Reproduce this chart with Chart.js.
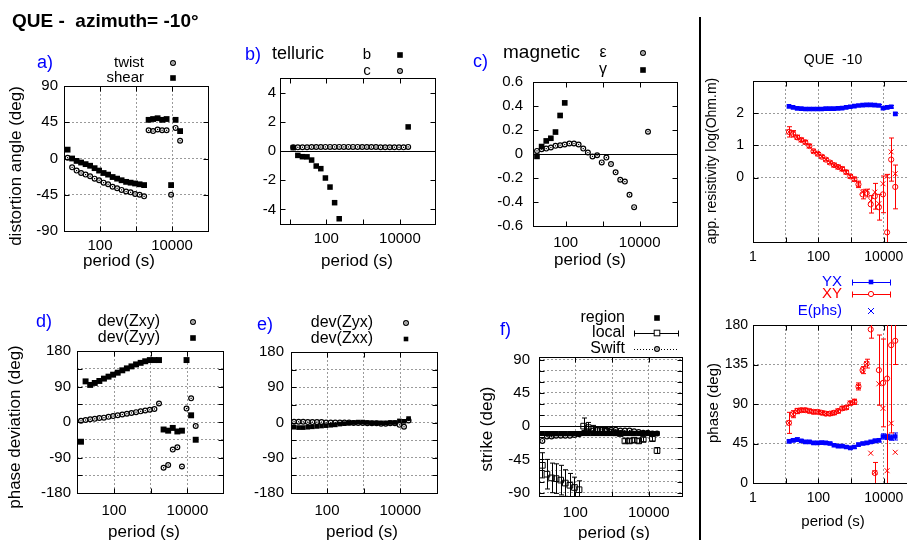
<!DOCTYPE html>
<html>
<head>
<meta charset="utf-8">
<script src="https://cdn.jsdelivr.net/npm/chart.js@4.4.1/dist/chart.umd.min.js"></script>
<style>
html, body { margin: 0; padding: 0; background: #fff; width: 907px; height: 540px; overflow: hidden; }
canvas { position: absolute; left: 0; top: 0; }
#divider { position: absolute; left: 699px; top: 17px; width: 2px; height: 523px; background: #000; }
</style>
</head>
<body>
<div id="divider"></div>
<canvas id="ca" width="940" height="540"></canvas>
<canvas id="cb" width="940" height="540"></canvas>
<canvas id="cc" width="940" height="540"></canvas>
<canvas id="cd" width="940" height="540"></canvas>
<canvas id="ce" width="940" height="540"></canvas>
<canvas id="cf" width="940" height="540"></canvas>
<canvas id="crho" width="940" height="540"></canvas>
<canvas id="cphi" width="940" height="540"></canvas>
<script>
// ==== DATA ====
// periods (s), shared by every panel
const periods = [12.59, 16.79, 22.39, 29.85, 39.81, 53.09, 70.79, 94.41, 125.9, 167.9, 223.9, 298.5, 398.1,
  530.9, 707.9, 944.1, 1259, 1679, 2239, 2985, 3981, 5309, 7079, 9441, 12589, 16788, 22387];

// a) distortion angles (deg)
const twist = [1, -11, -15, -18, -20, -22, -25, -27, -30, -32, -35, -37, -39, -41, -42, -44, -45, -47,
  35, 34, 36, 35, 35, -45, 38, 22, null];
const shear = [11, 0, -3, -5, -7, -9, -12, -15, -18, -20, -23, -25, -27, -29, -30, -31, -32, -33,
  48, 49, 50, 48, 49, -33, 48, 34, null];

// b) telluric
const tellB = [0.23, -0.3, -0.39, -0.4, -0.62, -1.03, -1.21, -1.85, -2.47, -3.54, -4.64, null, null, null,
  null, null, null, null, null, null, null, null, null, null, null, 1.65, null];
const tellC = [0.25, 0.25, 0.26, 0.26, 0.27, 0.27, 0.27, 0.28, 0.28, 0.28, 0.28, 0.28, 0.28, 0.28, 0.28,
  0.27, 0.27, 0.27, 0.27, 0.26, 0.26, 0.26, 0.26, 0.25, 0.25, 0.28, null];

// c) magnetic
const magEps = [null, 0.026, 0.04, 0.045, 0.054, 0.068, 0.073, 0.079, 0.087, 0.087, 0.079, 0.045, 0.012,
  -0.02, -0.01, -0.07, -0.03, -0.084, -0.153, -0.214, -0.23, -0.34, -0.443, null, null, 0.186, null];
const magGamma = [null, -0.02, 0.062, 0.109, 0.131, 0.183, 0.321, 0.426, null, null, null, null, null,
  null, null, null, null, null, null, null, null, null, null, null, null, null, null];

// d) phase deviation (deg)
const devZxy = [3, 5, 7, 8, 10, 11, 13, 15, 17, 19, 21, 23, 25, 27, 29, 31, 33, 47,
  -116, -109, -70, -64, -113, 34, 60, -10, null];
const devZyy = [-50, 103, 94, 99, 104, 110, 115, 120, 125, 131, 136, 141, 146, 150, 154, 157, 157, 157,
  -19, -22, -15, -24, -22, 157, 17, -45, null];

// e) phase deviation (deg)
const devZyx = [2, 2, 2, 1, 1, 1, 1, 0, 0, 0, 0, 0, 0, -1, -1, -1, -2, -2, -2, -3, -3, -2, -2, -6, -11, 5, null];
const devZxx = [-12, -13, -13, -12, -11, -10, -9, -8, -7, -6, -4, -3, -2, 0, 1, 1, 0, -1, -1, -1, -1, 0, 0, 4, 3, 10, null];

// f) strike (deg)
const strikeRegion = [-10, -10, -10, -10, -10, -10, -10, -10, -10, -10, -10, -10, -10, -10, -10, -10, -10,
  -10, -10, -10, -10, -10, -10, -10, -10, -10, null];
const strikeLocal = [-53, -65, -70, -71, -73, -77, -80, -83, -86, 0, -2, -4, -5, -6, -7, -8, -9, -10,
  -20, -20, -19, -20, -18, null, -17, -33, null];
const strikeLocalErr = [17, 20, 20, 20, 20, 18, 16, 14, 12, 11, 7, 5, 4, 4, 4, 3, 3, 3,
  3, 3, 3, 3, 3, null, 3, 4, null];
const strikeSwift = [-20, -14, -14, -13, -13, -13, -13, -12, -11, -9, -7, -6, -5, -5, -5, -5, -5, -6,
  -6, -6, -7, -8, -9, -9, -10, -10, null];

// right: apparent resistivity log10(Ohm.m)
const rhoYX = [2.21, 2.18, 2.15, 2.14, 2.13, 2.13, 2.13, 2.13, 2.13, 2.14, 2.14, 2.14, 2.15, 2.16, 2.18,
  2.2, 2.22, 2.24, 2.25, 2.26, 2.26, 2.25, 2.24, 2.16, 2.18, 2.2, 1.98];
const rhoYXErr = [0.03, 0.02, 0.02, 0.02, 0.02, 0.02, 0.02, 0.02, 0.02, 0.02, 0.02, 0.02, 0.02, 0.02, 0.02,
  0.02, 0.02, 0.02, 0.02, 0.02, 0.02, 0.02, 0.03, 0.04, 0.04, 0.04, 0.04];
const rhoXY = [1.42, 1.36, 1.25, 1.17, 1.1, 0.98, 0.82, 0.74, 0.65, 0.56, 0.47, 0.39, 0.33, 0.27, 0.17,
  0.04, -0.05, -0.21, -0.52, -0.48, -0.83, -0.58, -0.92, -0.52, -1.7, 0.56, -0.29];
const rhoXYErr = [0.16, 0.1, 0.06, 0.05, 0.05, 0.05, 0.04, 0.04, 0.04, 0.04, 0.04, 0.04, 0.04, 0.05, 0.05,
  0.05, 0.06, 0.1, 0.14, 0.12, 0.27, 0.4, 0.4, 0.57, 1.8, 0.67, 0.68];
const rhoXYE = [1.42, 1.37, 1.26, 1.17, 1.1, 0.98, 0.82, 0.74, 0.65, 0.56, 0.47, 0.39, 0.33, 0.27, 0.17,
  0.04, -0.05, -0.2, -0.45, -0.42, -0.71, -0.45, -0.81, -0.19, 0.04, 0.8, 0.12];

// right: phase (deg)
const phiYX = [47.6, 48.7, 49.5, 48, 46.8, 46.8, 45.7, 45.7, 46, 45.7, 45, 43, 42, 42, 41, 40, 41, 43.8,
  45, 45.7, 46.8, 48, 48.7, 53, 52.5, 51.7, 53];
const phiYXErr = [2, 2, 2, 1.5, 1.5, 1.5, 1.5, 1.5, 1.5, 1.5, 1.5, 1.5, 1.5, 1.5, 1.5, 1.5, 1.5, 1.5,
  1.5, 1.5, 1.5, 2, 2, 3, 3, 3, 4];
const phiXY = [68.5, 78.4, 82, 83, 83, 82, 81, 81, 80, 79, 79, 80, 82, 85, 86, 91, 92.5, 110,
  128.6, 136, 175, 11.4, 128.6, 114, 119, 157, 162];
const phiXYErr = [12, 4, 3, 2, 2, 2, 2, 2, 2, 2, 2, 2, 2, 2, 2, 2, 3, 4, 4, 5, 10, 12, 40, 50, 120, 100, 27];
const phiXYE = [68.5, 78.4, 82, 83, 83, 82, 81, 81, 80, 79, 79, 80, 82, 85, 86, 91, 92.5, 110,
  128.6, 136, 34, 12, 113, 85, 14, 68, 35];

// ticks and tick labels
const xTicksLeft = [10, 100, 1000, 10000, 100000];
const xLabelsLeft = ['', '100', '', '10000', ''];
const xTicksRight = [1, 10, 100, 1000, 10000, 100000];
const xLabelsRight = ['1', '', '100', '', '10000', ''];
const yTicksAngle = [-90, -45, 0, 45, 90];
const yTicksTell = [-4, -2, 0, 2, 4];
const yTicksMag = [-0.6, -0.4, -0.2, 0, 0.2, 0.4, 0.6];
const yLabelsMag = ['-0.6', '-0.4', '-0.2', '0', '0.2', '0.4', '0.6'];
const yTicksDev = [-180, -135, -90, -45, 0, 45, 90, 135, 180];
const yLabelsDev = ['-180', '', '-90', '', '0', '', '90', '', '180'];
const yTicksStrike = [-90, -75, -60, -45, -30, -15, 0, 15, 30, 45, 60, 75, 90];
const yLabelsStrike = ['-90', '', '', '-45', '', '', '0', '', '', '45', '', '', '90'];
const yTicksRho = [0, 1, 2];
const yTicksPhase = [0, 45, 90, 135, 180];

// ==== STYLE ====
const FONT = '"Liberation Sans", Arial, Helvetica, sans-serif';
const BLUE = '#0000ff', RED = '#ff0000', GRID = '#9a9a9a';
const CW = 940, CH = 540, YW = 40, XH = 34;

const pts = vals => periods.map((p, i) => ({ x: p, y: vals[i] }));

function sq(vals, color, r, extra) {
  return Object.assign({ data: pts(vals), pointStyle: 'rect', pointRadius: r, pointBackgroundColor: color,
    pointBorderColor: color, pointBorderWidth: 0, errColor: color }, extra || {});
}
// open circle with a dot in the middle (gnuplot point type 6 look)
function cdot(vals, extra) {
  return Object.assign({ data: pts(vals), pointStyle: 'circle', pointRadius: 2.4, pointBorderWidth: 1.2,
    pointBorderColor: '#000', pointBackgroundColor: 'rgba(0,0,0,0)', centerDot: '#000' }, extra || {});
}

// ==== PLUGINS ====
const framePlugin = {
  id: 'frame',
  beforeDatasetsDraw(chart) {
    const { ctx, chartArea: a, scales: { x, y } } = chart;
    const L = Math.round(a.left) + 0.5, R = Math.round(a.right) + 0.5;
    const T = Math.round(a.top) + 0.5, B = Math.round(a.bottom) + 0.5;
    ctx.save();
    ctx.strokeStyle = '#000'; ctx.lineWidth = 1;
    ctx.beginPath();
    if (chart.$zero) {
      const yz = Math.round(y.getPixelForValue(0)) + 0.5;
      ctx.moveTo(L, yz); ctx.lineTo(R, yz);
    }
    x.ticks.forEach(t => {
      const px = Math.round(x.getPixelForValue(t.value)) + 0.5;
      ctx.moveTo(px, B); ctx.lineTo(px, B - 5);
      ctx.moveTo(px, T); ctx.lineTo(px, T + 5);
    });
    y.ticks.forEach(t => {
      const py = Math.round(y.getPixelForValue(t.value)) + 0.5;
      ctx.moveTo(L, py); ctx.lineTo(L + 5, py);
      ctx.moveTo(R, py); ctx.lineTo(R - 5, py);
    });
    ctx.stroke();
    ctx.strokeRect(L, T, R - L, B - T);
    ctx.restore();
  }
};

const markPlugin = {
  id: 'marks',
  // error bars go under the points of their dataset
  beforeDatasetDraw(chart, args) {
    const ds = chart.data.datasets[args.index];
    if (!ds.errors) return;
    const { ctx, chartArea: a } = chart;
    const ys = chart.scales[args.meta.yAxisID];
    ctx.save();
    ctx.beginPath(); ctx.rect(a.left, a.top, a.right - a.left, a.bottom - a.top); ctx.clip();
    ctx.strokeStyle = ds.errColor; ctx.lineWidth = 1;
    ctx.beginPath();
    args.meta.data.forEach((pt, i) => {
      const v = ds.data[i].y, e = ds.errors[i];
      if (v == null || e == null) return;
      const y1 = ys.getPixelForValue(v + e), y2 = ys.getPixelForValue(v - e);
      const px = Math.round(pt.x) + 0.5;
      ctx.moveTo(px, y1); ctx.lineTo(px, y2);
      ctx.moveTo(px - 2.5, y1); ctx.lineTo(px + 2.5, y1);
      ctx.moveTo(px - 2.5, y2); ctx.lineTo(px + 2.5, y2);
    });
    ctx.stroke();
    ctx.restore();
  },
  afterDatasetDraw(chart, args) {
    const ds = chart.data.datasets[args.index];
    if (!ds.centerDot) return;
    const { ctx, chartArea: a } = chart;
    ctx.save();
    ctx.fillStyle = ds.centerDot;
    args.meta.data.forEach((pt, i) => {
      if (ds.data[i].y == null || pt.x < a.left || pt.x > a.right || pt.y < a.top || pt.y > a.bottom) return;
      ctx.fillRect(pt.x - 0.6, pt.y - 0.6, 1.2, 1.2);
    });
    ctx.restore();
  }
};

function drawKey(ctx, k) {
  ctx.save();
  ctx.strokeStyle = k.color; ctx.fillStyle = k.color; ctx.lineWidth = 1;
  if (k.line) {
    ctx.beginPath();
    if (k.dash) ctx.setLineDash(k.dash);
    ctx.moveTo(k.line[0], k.y + 0.5); ctx.lineTo(k.line[1], k.y + 0.5);
    ctx.stroke();
    ctx.setLineDash([]);
    if (k.caps) {
      ctx.beginPath();
      ctx.moveTo(k.line[0] + 0.5, k.y - 2.5); ctx.lineTo(k.line[0] + 0.5, k.y + 3.5);
      ctx.moveTo(k.line[1] - 0.5, k.y - 2.5); ctx.lineTo(k.line[1] - 0.5, k.y + 3.5);
      ctx.stroke();
    }
  }
  const x = k.x, y = k.y, s = k.size || 5.6;
  if (k.style === 'sq') ctx.fillRect(x - s / 2, y - s / 2, s, s);
  if (k.style === 'osq') { ctx.fillStyle = '#fff'; ctx.fillRect(x - 2.8, y - 2.8, 5.6, 5.6); ctx.strokeRect(x - 2.8, y - 2.8, 5.6, 5.6); }
  if (k.style === 'oc' || k.style === 'cd') {
    ctx.fillStyle = '#fff';
    if (k.style === 'cd') ctx.lineWidth = 1.2;
    ctx.beginPath(); ctx.arc(x, y, k.style === 'cd' ? 2.4 : 2.6, 0, Math.PI * 2); ctx.fill(); ctx.stroke();
    if (k.style === 'cd') { ctx.fillStyle = k.color; ctx.fillRect(x - 0.6, y - 0.6, 1.2, 1.2); }
  }
  if (k.style === 'x') {
    ctx.beginPath();
    ctx.moveTo(x - 3, y - 3); ctx.lineTo(x + 3, y + 3);
    ctx.moveTo(x - 3, y + 3); ctx.lineTo(x + 3, y - 3);
    ctx.stroke();
  }
  ctx.restore();
}

function textPlugin(texts, keys) {
  return {
    id: 'texts',
    afterDraw(chart) {
      const ctx = chart.ctx;
      (keys || []).forEach(k => drawKey(ctx, k));
      (texts || []).forEach(t => {
        ctx.save();
        ctx.font = (t.bold ? 'bold ' : '') + t.size + 'px ' + FONT;
        ctx.fillStyle = t.color || '#000';
        ctx.textAlign = t.align || 'center';
        ctx.textBaseline = 'middle';
        ctx.translate(t.x, t.y);
        if (t.rot) ctx.rotate(-Math.PI / 2);
        ctx.fillText(t.text, 0, 0);
        ctx.restore();
      });
    }
  };
}

// ==== PANEL BUILDER ====
function panel(id, cfg) {
  const [l, t, r, b] = cfg.frame;
  const xm = new Map(cfg.xTicks.map((v, i) => [v, cfg.xLabels[i]]));
  const ym = new Map(cfg.yTicks.map((v, i) => [v, cfg.yLabels ? cfg.yLabels[i] : String(v)]));
  const tickFont = { family: FONT, size: cfg.tickSize || 15 };
  const chart = new Chart(document.getElementById(id), {
    type: 'scatter',
    data: { datasets: cfg.datasets },
    options: {
      responsive: false,
      animation: false,
      events: [],
      layout: { padding: { left: l - YW, top: t, right: CW - r, bottom: CH - b - XH } },
      scales: {
        x: {
          type: 'logarithmic', min: cfg.xMin, max: cfg.xMax, bounds: 'data',
          afterBuildTicks: s => { s.ticks = cfg.xTicks.filter(v => v >= s.min * 0.999 && v <= s.max * 1.001).map(v => ({ value: v })); },
          afterFit: s => { s.height = XH; },
          ticks: { autoSkip: false, maxRotation: 0, padding: cfg.xPad, color: '#000', font: tickFont,
            callback: v => xm.get(v) ?? '' },
          grid: { drawTicks: false, drawOnChartArea: !!cfg.grid, color: GRID, lineWidth: 1 },
          border: { display: false, dash: [2, 2] }
        },
        y: {
          type: 'linear', min: cfg.yMin, max: cfg.yMax,
          afterBuildTicks: s => { s.ticks = cfg.yTicks.filter(v => v >= s.min - 1e-9 && v <= s.max + 1e-9).map(v => ({ value: v })); },
          afterFit: s => { s.width = YW; },
          ticks: { autoSkip: false, padding: cfg.yPad, color: '#000', font: tickFont,
            callback: v => ym.get(v) ?? '' },
          grid: { drawTicks: false, drawOnChartArea: !!cfg.grid, color: GRID, lineWidth: 1 },
          border: { display: false, dash: [2, 2] }
        }
      },
      plugins: { legend: { display: false }, tooltip: { enabled: false } }
    },
    plugins: [framePlugin, markPlugin, textPlugin(cfg.texts, cfg.keys)]
  });
  chart.$zero = !!cfg.zero;
  chart.draw();
  return chart;
}

const tx = (text, x, y, size, more) => Object.assign({ text, x, y, size }, more || {});

// ==== a) distortion ====
panel('ca', {
  frame: [64, 86, 208, 231], xMin: 10, xMax: 1e5, yMin: -90, yMax: 90,
  xTicks: xTicksLeft, xLabels: xLabelsLeft, yTicks: yTicksAngle, grid: true, xPad: 6, yPad: 6,
  datasets: [cdot(twist), sq(shear, '#000', 4.1)],
  texts: [
    tx('QUE -  azimuth= -10°', 12, 22, 19, { bold: true, align: 'left' }),
    tx('a)', 37, 63, 18, { color: BLUE, align: 'left' }),
    tx('twist', 144, 63, 15, { align: 'right' }),
    tx('shear', 144, 78, 15, { align: 'right' }),
    tx('distortion angle (deg)', 16, 166, 17, { rot: true }),
    tx('period (s)', 119, 261, 17)
  ],
  keys: [{ style: 'cd', x: 173, y: 63, color: '#000' }, { style: 'sq', x: 173, y: 78, color: '#000' }]
});

// ==== b) telluric ====
panel('cb', {
  frame: [280, 78, 435, 224], xMin: 5.5, xMax: 9e4, yMin: -5, yMax: 5,
  xTicks: xTicksLeft, xLabels: xLabelsLeft, yTicks: yTicksTell, zero: true, xPad: 6, yPad: 4,
  datasets: [sq(tellB, '#000', 3.9), cdot(tellC)],
  texts: [
    tx('b)', 245, 55, 18, { color: BLUE, align: 'left' }),
    tx('telluric', 272, 54, 18, { align: 'left' }),
    tx('b', 367, 55, 15),
    tx('c', 367, 71, 15),
    tx('period (s)', 357, 261, 17)
  ],
  keys: [{ style: 'sq', x: 400, y: 55, color: '#000' }, { style: 'cd', x: 400, y: 71, color: '#000' }]
});

// ==== c) magnetic ====
panel('cc', {
  frame: [533, 82, 677, 226], xMin: 13.1, xMax: 1.02e5, yMin: -0.6, yMax: 0.6,
  xTicks: xTicksLeft, xLabels: xLabelsLeft, yTicks: yTicksMag, yLabels: yLabelsMag, zero: true, xPad: 8, yPad: 10,
  datasets: [sq(magGamma, '#000', 4), cdot(magEps)],
  texts: [
    tx('c)', 473, 62, 18, { color: BLUE, align: 'left' }),
    tx('magnetic', 503, 53, 19, { align: 'left' }),
    tx('ε', 603, 53, 16),
    tx('γ', 603, 70, 16),
    tx('period (s)', 590, 260, 17)
  ],
  keys: [{ style: 'cd', x: 643, y: 53, color: '#000' }, { style: 'sq', x: 643, y: 70, color: '#000' }]
});

// ==== d) phase deviation ====
panel('cd', {
  frame: [77, 351, 223, 493], xMin: 9.8, xMax: 9.3e4, yMin: -180, yMax: 180,
  xTicks: xTicksLeft, xLabels: xLabelsLeft, yTicks: yTicksDev, yLabels: yLabelsDev, grid: true, xPad: 9, yPad: 6,
  datasets: [cdot(devZxy), sq(devZyy, '#000', 4.2)],
  texts: [
    tx('d)', 36, 322, 18, { color: BLUE, align: 'left' }),
    tx('dev(Zxy)', 160, 322, 16, { align: 'right' }),
    tx('dev(Zyy)', 160, 338, 16, { align: 'right' }),
    tx('phase deviation (deg)', 15, 427, 17, { rot: true }),
    tx('period (s)', 144, 532, 17)
  ],
  keys: [{ style: 'cd', x: 193, y: 322, color: '#000' }, { style: 'sq', x: 193, y: 338, color: '#000' }]
});

// ==== e) phase deviation ====
panel('ce', {
  frame: [291, 352, 437, 493], xMin: 10.4, xMax: 1e5, yMin: -180, yMax: 180,
  xTicks: xTicksLeft, xLabels: xLabelsLeft, yTicks: yTicksDev, yLabels: yLabelsDev, grid: true, xPad: 9, yPad: 7,
  datasets: [cdot(devZyx), sq(devZxx, '#000', 3.3)],
  texts: [
    tx('e)', 257, 325, 18, { color: BLUE, align: 'left' }),
    tx('dev(Zyx)', 373, 323, 16, { align: 'right' }),
    tx('dev(Zxx)', 373, 339, 16, { align: 'right' }),
    tx('period (s)', 362, 532, 17)
  ],
  keys: [{ style: 'cd', x: 406, y: 323, color: '#000' }, { style: 'sq', x: 406, y: 339, color: '#000', size: 4.6 }]
});

// ==== f) strike ====
panel('cf', {
  frame: [539, 357, 682, 496], xMin: 10.2, xMax: 8.05e4, yMin: -94.5, yMax: 93.5,
  xTicks: xTicksLeft, xLabels: xLabelsLeft, yTicks: yTicksStrike, yLabels: yLabelsStrike, grid: true, zero: true,
  xPad: 8, yPad: 9,
  datasets: [
    sq(strikeLocal, '#000', 4, { pointBackgroundColor: 'rgba(0,0,0,0)', pointBorderWidth: 1, errors: strikeLocalErr }),
    cdot(strikeSwift, { showLine: true, borderColor: '#000', borderWidth: 1, borderDash: [1, 2] }),
    sq(strikeRegion, '#000', 3.6)
  ],
  texts: [
    tx('f)', 500, 330, 18, { color: BLUE, align: 'left' }),
    tx('region', 625, 318, 16, { align: 'right' }),
    tx('local', 625, 333, 16, { align: 'right' }),
    tx('Swift', 625, 349, 16, { align: 'right' }),
    tx('strike (deg)', 487, 429, 17, { rot: true }),
    tx('period (s)', 614, 533, 17)
  ],
  keys: [
    { style: 'sq', x: 657, y: 318, color: '#000' },
    { style: 'osq', x: 657, y: 333, color: '#000', line: [634, 679], caps: true },
    { style: 'cd', x: 657, y: 349, color: '#000', line: [634, 679], dash: [1, 2] }
  ]
});

// ==== right: apparent resistivity ====
panel('crho', {
  frame: [753, 81, 916.5, 242], xMin: 1, xMax: 1e5, yMin: -2, yMax: 3,
  xTicks: xTicksRight, xLabels: xLabelsRight, yTicks: yTicksRho, grid: true, xPad: 7, yPad: 9, tickSize: 14,
  datasets: [
    { data: pts(rhoXYE), pointStyle: 'crossRot', pointRadius: 3.5, pointBorderColor: RED, pointBorderWidth: 1 },
    { data: pts(rhoXY), pointStyle: 'circle', pointRadius: 2.6, pointBorderColor: RED,
      pointBackgroundColor: 'rgba(0,0,0,0)', pointBorderWidth: 1, errors: rhoXYErr, errColor: RED },
    sq(rhoYX, BLUE, 3.3, { errors: rhoYXErr })
  ],
  texts: [
    tx('QUE  -10', 833, 60, 14),
    tx('app. resistivity log(Ohm.m)', 712, 161, 14, { rot: true })
  ]
});

// ==== right: phase ====
panel('cphi', {
  frame: [753, 325, 916.5, 483], xMin: 1, xMax: 1e5, yMin: 0, yMax: 180,
  xTicks: xTicksRight, xLabels: xLabelsRight, yTicks: yTicksPhase, grid: true, xPad: 7, yPad: 5, tickSize: 14,
  datasets: [
    { data: pts(phiXYE), pointStyle: 'crossRot', pointRadius: 3.5, pointBorderColor: RED, pointBorderWidth: 1 },
    { data: pts(phiXY), pointStyle: 'circle', pointRadius: 2.6, pointBorderColor: RED,
      pointBackgroundColor: 'rgba(0,0,0,0)', pointBorderWidth: 1, errors: phiXYErr, errColor: RED },
    sq(phiYX, BLUE, 3.3, { errors: phiYXErr })
  ],
  texts: [
    tx('YX', 842, 282, 15, { color: BLUE, align: 'right' }),
    tx('XY', 842, 294, 15, { color: RED, align: 'right' }),
    tx('E(phs)', 842, 311, 15, { color: BLUE, align: 'right' }),
    tx('phase (deg)', 714, 403, 15, { rot: true }),
    tx('period (s)', 833, 522, 15)
  ],
  keys: [
    { style: 'sq', x: 871, y: 282, color: BLUE, line: [852, 891], caps: true, size: 4.6 },
    { style: 'oc', x: 871, y: 294, color: RED, line: [852, 891], caps: true },
    { style: 'x', x: 871, y: 311, color: BLUE }
  ]
});
</script>
</body>
</html>
